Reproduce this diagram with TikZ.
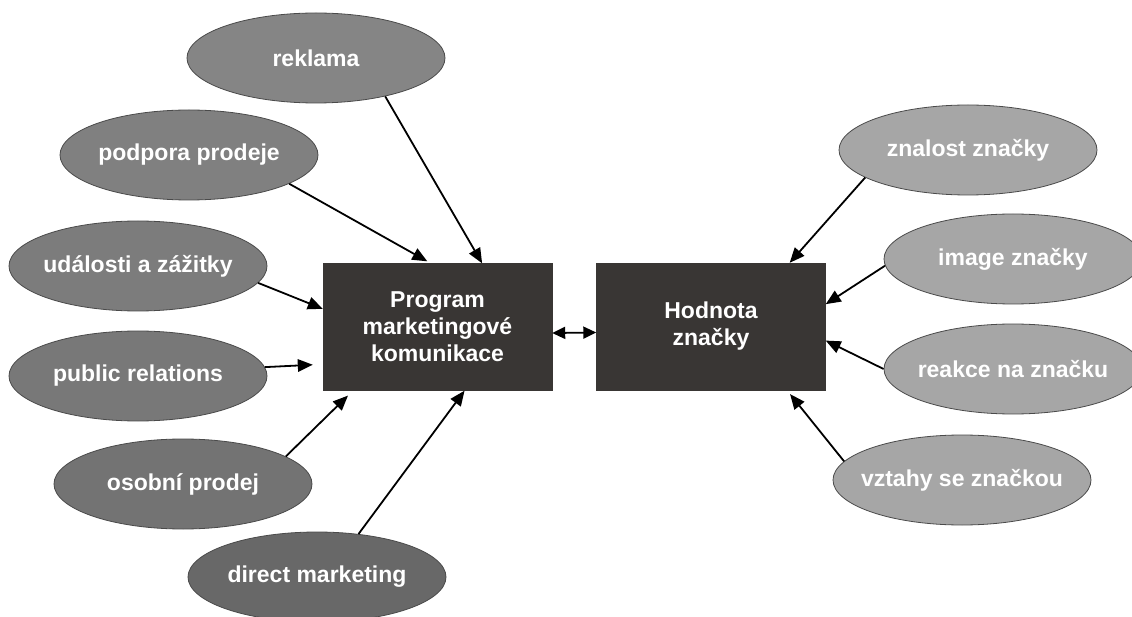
\documentclass[tikz,border=0pt]{standalone}
\usepackage{fontspec}
\setmainfont{Liberation Sans}
\usetikzlibrary{shapes.geometric,arrows.meta}
\definecolor{boxc}{HTML}{393634}
\definecolor{ell1}{HTML}{858585}
\definecolor{ell2}{HTML}{808080}
\definecolor{ell3}{HTML}{7C7C7C}
\definecolor{ell4}{HTML}{787878}
\definecolor{ell5}{HTML}{737373}
\definecolor{ell6}{HTML}{686868}
\definecolor{ellr}{HTML}{A6A6A6}
\definecolor{ellline}{HTML}{4A4A4A}
\newcommand{\ztxt}[1]{\makebox[0pt]{#1}}
\begin{document}
\begin{tikzpicture}[x=1pt,y=-1pt,
  ell/.style={ellipse, draw=ellline, line width=0.8pt, minimum width=258pt, minimum height=90pt,
    inner sep=0pt, text=white, font=\fontsize{23}{27}\selectfont\bfseries},
  mainbox/.style={rectangle, fill=boxc, draw=boxc, minimum width=229pt, minimum height=127pt,
    inner sep=0pt, text=white, align=center, font=\fontsize{23}{27}\selectfont\bfseries},
  arr/.style={line width=1.8pt, -{Triangle[length=15pt,width=12.5pt]}},
  darr/.style={line width=1.8pt, {Triangle[length=13pt,width=12pt]}-{Triangle[length=13pt,width=12pt]}}
]
\useasboundingbox (0,0) rectangle (1132,617);
\clip (0,0) rectangle (1132,617);

% left ellipses
\node[ell, fill=ell1] (rek) at (316,58) {\ztxt{reklama}};
\node[ell, fill=ell2] (pod) at (189,155) {\ztxt{podpora prodeje}};
\node[ell, fill=ell3] (uda) at (138,266) {\ztxt{události a zážitky}};
\node[ell, fill=ell4] (pub) at (138,376) {\ztxt{public relations}};
\node[ell, fill=ell5] (oso) at (183,484) {\ztxt{osobní prodej}};
\node[ell, fill=ell6] (dir) at (317,577) {\ztxt{direct marketing}};

% boxes
\node[mainbox] (prog) at (437.5,327) {Program\\marketingové\\komunikace};
\node[mainbox] (hod) at (711,326.5) {Hodnota\\značky};

% right ellipses
\node[ell, fill=ellr] (zna) at (968,150) {\ztxt{znalost značky}};
\node[ell, fill=ellr] (ima) at (1013,259) {\ztxt{image značky}};
\node[ell, fill=ellr] (rea) at (1013,369) {\ztxt{reakce na značku}};
\node[ell, fill=ellr] (vzt) at (962,480) {\ztxt{vztahy se značkou}};

% arrows left
\draw[arr] (rek.-29) -- (prog.55.2);
\draw[arr, shorten >=4pt] (pod.-16.3) -- (prog.96.7);
\draw[arr] (uda.-8.1) -- (prog.171.3);
\draw[arr, shorten >=10pt] (pub.4.8) -- (prog.198.4);
\draw[arr, shorten >=7pt] (oso.15.6) -- (prog.217.3);
\draw[arr] (dir.46.4) -- (prog.-67.1);

% double arrow
\draw[darr] (prog.-3.5) -- (hod.183.8);

% arrows right
\draw[arr] (zna.195.6) -- (hod.39.9);
\draw[arr] (ima.183.6) -- (hod.11.4);
\draw[arr] (rea.180.5) -- (hod.-7);
\draw[arr, shorten >=5pt] (vzt.171.4) -- (hod.-40.4);
\end{tikzpicture}
\end{document}
